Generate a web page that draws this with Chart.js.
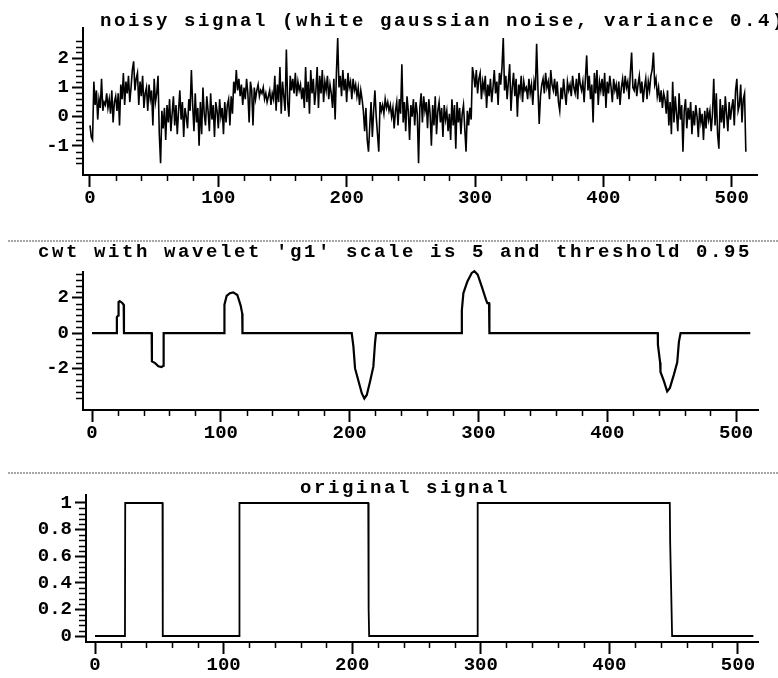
<!DOCTYPE html>
<html>
<head>
<meta charset="utf-8">
<script src="https://cdn.jsdelivr.net/npm/chart.js@4.4.1/dist/chart.umd.min.js"></script>
<style>
  html, body { margin: 0; padding: 0; background: #fff; }
  body { width: 778px; height: 678px; position: relative; overflow: hidden; }
  canvas { position: absolute; left: 0; }
</style>
</head>
<body>
<canvas id="noisy" style="top:0px" width="778" height="215"></canvas>
<canvas id="cwt" style="top:215px" width="778" height="235"></canvas>
<canvas id="orig" style="top:450px" width="778" height="228"></canvas>
<script>
// noisy signal, one value per sample (0..511)
const noisySignal = [
  -0.3,-0.7,-0.8,1.2,0.4,0.9,-0.1,0.6,0.3,1.3,0.2,0.5,0.4,0.8,0.3,0.6,
  0.1,0.9,-0.2,0.5,0.7,0.2,0.8,-0.3,1.1,0.6,1.5,0.4,1.2,0.8,1.4,0.5,
  1.0,1.6,1.9,0.9,1.3,1.5,0.4,1.2,0.7,1.4,0.3,0.8,1.0,0.2,1.1,0.6,
  0.9,-0.3,1.3,0.5,0.8,1.4,-0.6,-1.6,0.2,-0.4,0.3,-0.8,0.4,-0.2,0.6,-0.5,
  0.1,0.7,-0.3,0.4,-0.6,0.2,0.9,-0.1,0.5,-0.7,0.3,0.0,-0.4,0.6,0.2,1.6,
  0.4,-0.5,0.8,-0.2,0.3,-1.0,0.5,-0.6,1.0,0.1,-0.3,0.7,0.2,-0.5,0.8,-0.1,
  0.4,-0.7,0.5,0.2,-0.4,0.6,0.0,0.3,-0.6,0.5,-0.2,0.4,0.6,-0.3,0.7,0.1,
  1.2,0.8,1.6,0.9,1.3,0.7,1.1,0.4,1.0,0.6,1.3,0.8,-0.2,1.2,0.9,-0.3,
  1.0,0.6,0.9,1.1,0.7,0.9,0.8,1.0,0.6,0.8,0.5,0.7,0.9,0.4,0.8,0.6,
  1.4,0.2,1.1,0.5,1.7,0.1,1.2,0.7,0.2,2.3,0.5,0.0,1.4,0.9,1.3,0.8,
  1.5,0.7,1.2,0.9,1.1,0.6,1.0,0.3,1.7,0.5,1.2,0.1,1.6,0.8,1.3,0.4,
  0.9,1.7,0.3,1.4,0.8,1.6,0.5,1.2,0.9,1.4,0.6,1.1,0.8,0.3,1.3,-0.1,
  1.5,2.7,1.0,1.4,0.7,1.6,0.9,1.3,0.5,1.5,1.0,1.2,0.6,1.3,0.9,1.1,
  0.7,1.0,0.4,0.9,0.6,0.2,-0.5,0.3,-0.8,-1.2,-0.3,0.5,-0.7,0.2,0.9,0.0,
  -0.6,-1.2,0.5,0.2,0.4,0.1,0.6,0.3,0.5,0.2,0.4,0.0,0.3,-0.4,0.2,0.5,
  -0.3,0.6,0.1,1.8,-0.2,0.5,-0.5,0.7,0.2,-0.8,0.4,0.0,0.6,-0.3,0.5,0.1,
  -1.6,0.3,0.8,-0.2,0.7,0.2,0.5,-0.4,0.6,0.1,-1.0,0.4,-0.3,0.7,-0.6,0.2,
  0.5,-0.2,0.3,-0.7,0.4,-0.1,0.2,-0.5,0.1,-0.8,0.6,-0.3,0.4,-1.1,0.5,-0.2,
  0.3,-0.6,0.1,0.4,-0.4,-1.2,0.2,-0.3,0.3,-0.1,1.7,1.4,1.0,1.6,0.8,1.3,
  1.5,0.6,1.2,0.9,1.4,0.3,1.1,0.7,1.3,0.5,1.0,1.6,0.8,1.2,0.4,1.5,
  1.1,1.7,2.7,0.9,1.4,0.6,1.2,1.8,0.2,1.0,1.5,0.7,1.3,0.0,1.1,0.8,
  1.4,0.5,1.2,0.9,1.0,0.6,1.3,0.8,1.1,0.4,1.2,0.9,2.5,1.0,-0.25,0.7,
  1.1,1.3,0.8,1.5,1.0,1.2,0.6,1.6,1.1,0.9,1.3,0.7,1.2,0.5,0.2,1.0,
  0.6,1.3,0.8,0.4,1.2,0.9,1.1,0.7,1.4,1.0,0.8,1.3,0.6,1.5,1.1,0.9,
  1.2,0.5,1.3,2.1,0.9,1.4,0.6,1.1,-0.2,1.5,0.8,1.6,0.4,1.2,0.9,1.3,
  0.7,1.5,0.3,1.2,0.8,1.4,1.0,0.5,1.3,0.9,1.1,0.6,1.2,0.4,1.0,1.3,
  0.8,1.4,1.0,1.2,0.6,1.5,2.2,1.0,0.9,1.3,0.7,1.1,1.4,0.8,1.2,0.5,
  1.0,1.3,0.6,1.2,0.9,1.4,1.6,2.2,1.1,1.3,0.7,1.0,0.5,0.9,0.3,0.8,
  0.6,0.1,0.9,-0.3,0.5,-0.6,1.2,-0.2,0.7,0.1,-0.5,0.8,-0.1,0.4,-1.2,0.2,
  0.6,-0.4,0.3,-0.1,0.5,-0.6,0.2,-0.3,0.4,0.0,-0.7,0.3,-0.2,0.1,-0.8,0.2,
  -0.4,0.3,-0.1,0.2,-0.5,0.1,1.3,-0.3,0.8,-0.6,-1.1,0.6,-0.2,0.4,-0.4,0.7,
  0.1,-0.5,0.5,-0.1,0.3,0.6,-0.3,0.9,1.3,0.2,0.4,1.1,-0.2,0.6,0.8,-1.2
];

// cwt result: zero except at the edges, given as corner points of the curve
const cwtX = [0,19.2,19.3,20.4,20.6,21.5,23.5,24.6,24.8,
  46.3,46.5,49,51.5,54,55.2,55.4,55.8,
  102.7,102.8,104.5,107,109.7,112.8,115.4,116.6,116.8,
  201.6,202.9,204.2,206.8,209.4,211.4,213.3,215.8,218.4,219.7,220.5,
  287,287.1,288.3,291.4,294.8,296.8,299.4,302.5,305.9,306.9,308.2,308.5,
  439.2,439.3,441,441.3,443.9,446.5,448.6,451.7,454.3,455.6,456.9,
  511];
const cwtY = [0,0,0.9,1.0,1.75,1.8,1.7,1.6,0,
  0,-1.6,-1.7,-1.88,-1.92,-1.85,-1.2,0,
  0,1.6,2.1,2.25,2.3,2.15,1.55,1.1,0,
  0,-0.75,-2.0,-2.7,-3.4,-3.7,-3.5,-2.75,-1.9,-0.55,0,
  0,1.3,2.26,2.92,3.4,3.5,3.3,2.64,1.88,1.69,1.69,0,
  0,-0.66,-1.66,-2.2,-2.7,-3.3,-3.1,-2.35,-1.66,-0.5,0,
  0];

// original square signal
const origX = [0,23.3,23.5,52.5,52.7,112,112.2,112.5,212.5,212.8,213.2,297.3,297.5,297.7,447,447.3,448,448.8,512];
const origY = [0,0,1,1,0,0,0.15,1,1,0.2,0,0,0.08,1,1,0.7,0.38,0,0];

const xTickValues = [0,100,200,300,400,500];
const noisyYTicks = [-1,0,1,2];
const cwtYTicks = [-2,0,2];
const origYTicks = [0,0.2,0.4,0.6,0.8,1];

const titles = {
  noisy: 'noisy signal (white gaussian noise, variance 0.4)',
  cwt: "cwt with wavelet 'g1' scale is 5 and threshold 0.95",
  orig: 'original signal'
};

// short ticks between the labelled ones
const xMinor = [];
for (let v = 20; v < 500; v += 20) if (v % 100) xMinor.push(v);
const noisyMinor = [];
for (let k = -8; k <= 13; k++) if (k % 5) noisyMinor.push(k / 5);
const cwtMinor = [];
for (let k = -11; k <= 10; k++) if (k % 6) cwtMinor.push(k / 3);
const origMinor = [];
for (let k = 1; k <= 25; k++) if (k % 5) origMinor.push(k / 25);

const tickFont = { family: '"Liberation Mono", monospace', size: 19, weight: 'bold' };

const deco = {
  id: 'deco',
  afterDraw(chart, args, o) {
    const ctx = chart.ctx;
    const xs = chart.scales.x, ys = chart.scales.y;
    ctx.save();
    ctx.strokeStyle = '#000';
    ctx.lineWidth = 1.5;
    ctx.beginPath();
    o.xMinor.forEach(v => {
      const px = Math.round(xs.getPixelForValue(v)) + 0.5;
      ctx.moveTo(px, xs.top); ctx.lineTo(px, xs.top + 6);
    });
    o.yMinor.forEach(v => {
      const py = Math.round(ys.getPixelForValue(v)) + 0.5;
      ctx.moveTo(ys.right - 7, py); ctx.lineTo(ys.right, py);
    });
    ctx.stroke();
    if (o.sepY != null) {
      ctx.strokeStyle = '#8a8a8a';
      ctx.lineWidth = 1.5;
      ctx.setLineDash([2, 1]);
      ctx.beginPath();
      ctx.moveTo(8, o.sepY); ctx.lineTo(778, o.sepY);
      ctx.stroke();
      ctx.setLineDash([]);
    }
    ctx.fillStyle = '#000';
    ctx.font = 'bold 19px "Liberation Mono", monospace';
    ctx.letterSpacing = '2.6px';
    ctx.textAlign = 'left';
    ctx.textBaseline = 'alphabetic';
    ctx.fillText(o.title, o.titleX, o.titleY);
    ctx.restore();
  }
};

function fmt(v) {
  return String(Math.round(v * 100) / 100);
}

function panel(id, points, p) {
  return new Chart(document.getElementById(id), {
    type: 'line',
    data: {
      datasets: [{
        data: points,
        borderColor: '#000',
        borderWidth: p.lw,
        pointRadius: 0,
        tension: 0,
        clip: false
      }]
    },
    options: {
      responsive: false,
      animation: false,
      events: [],
      layout: { padding: { left: 0, right: p.padRight, top: p.padTop, bottom: 0 } },
      plugins: {
        legend: { display: false },
        tooltip: { enabled: false },
        deco: { title: p.title, titleX: p.titleX, titleY: p.titleY, sepY: p.sepY, xMinor: xMinor, yMinor: p.yMinor }
      },
      scales: {
        x: {
          type: 'linear',
          min: p.xMin, max: p.xMax,
          afterFit: s => { s.height = p.xAxisH; },
          afterBuildTicks: s => { s.ticks = xTickValues.map(v => ({ value: v })); },
          ticks: { font: tickFont, color: '#000', padding: 0, maxRotation: 0, autoSkip: false, callback: fmt },
          grid: { drawOnChartArea: false, tickLength: 12, tickWidth: 2, tickColor: '#000' },
          border: { color: '#000', width: 2 }
        },
        y: {
          min: p.yMin, max: p.yMax,
          afterFit: s => { s.width = p.yAxisW; },
          afterBuildTicks: s => { s.ticks = p.yTicks.map(v => ({ value: v })); },
          ticks: { font: tickFont, color: '#000', padding: 3, autoSkip: false, callback: fmt },
          grid: { drawOnChartArea: false, tickLength: 11, tickWidth: 2, tickColor: '#000' },
          border: { color: '#000', width: 2 }
        }
      }
    },
    plugins: [deco]
  });
}

panel('noisy', noisySignal.map((v, i) => ({ x: i, y: v })), {
  lw: 1.6, padTop: 28, padRight: 21, xAxisH: 40, yAxisW: 83,
  xMin: -5.45, xMax: 519.7, yMin: -2, yMax: 3.04,
  yTicks: noisyYTicks, yMinor: noisyMinor,
  title: titles.noisy, titleX: 100, titleY: 26, sepY: null
});

panel('cwt', cwtX.map((x, i) => ({ x: x, y: cwtY[i] })), {
  lw: 2.2, padTop: 57, padRight: 20, xAxisH: 40, yAxisW: 83,
  xMin: -7, xMax: 517, yMin: -4.35, yMax: 3.45,
  yTicks: cwtYTicks, yMinor: cwtMinor,
  title: titles.cwt, titleX: 38, titleY: 42, sepY: 26
});

panel('orig', origX.map((x, i) => ({ x: x, y: origY[i] })), {
  lw: 1.8, padTop: 45, padRight: 20, xAxisH: 36, yAxisW: 86,
  xMin: -7, xMax: 515.6, yMin: -0.045, yMax: 1.06,
  yTicks: origYTicks, yMinor: origMinor,
  title: titles.orig, titleX: 300, titleY: 43, sepY: 23
});
</script>
</body>
</html>
